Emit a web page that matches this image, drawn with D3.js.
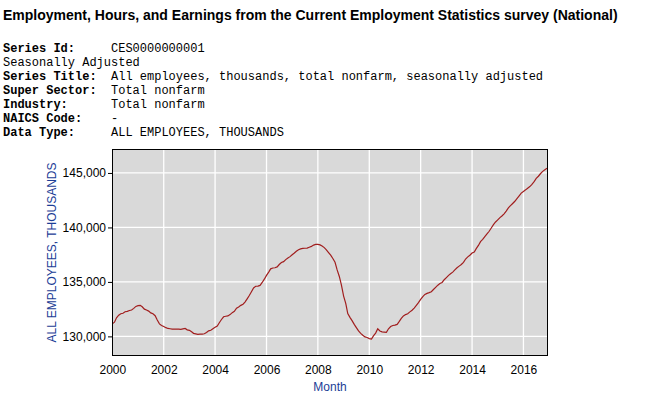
<!DOCTYPE html>
<html>
<head>
<meta charset="utf-8">
<script src="https://cdn.jsdelivr.net/npm/d3@7"></script>
<style>
  html, body { margin: 0; padding: 0; background: #fff; }
  svg { display: block; }
</style>
</head>
<body>
<svg id="chart" width="663" height="412"></svg>
<script>
// ---------- data ----------
const titleText = "Employment, Hours, and Earnings from the Current Employment Statistics survey (National)";
const metaLabels = ["Series Id:", "", "Series Title:", "Super Sector:", "Industry:", "NAICS Code:", "Data Type:"];
const metaValues = ["CES0000000001", "Seasonally Adjusted", "All employees, thousands, total nonfarm, seasonally adjusted",
                    "Total nonfarm", "Total nonfarm", "-", "ALL EMPLOYEES, THOUSANDS"];
const startMonth = "2000-01";
// monthly values, Jan 2000 .. Dec 2016 (thousands)
const employment = [
  131150,131300,131700,131950,132080,132120,132260,132300,132380,132420,132570,132750, // 2000
  132820,132850,132720,132500,132420,132320,132160,132080,131900,131500,131150,131000, // 2001
  130900,130800,130730,130700,130670,130660,130670,130670,130650,130690,130730,130600, // 2002
  130560,130420,130280,130230,130180,130200,130210,130240,130350,130510,130560,130700, // 2003
  130830,130950,131250,131550,131800,131850,131880,132000,132180,132300,132590,132700, // 2004
  132850,132950,133150,133450,133750,134100,134450,134600,134620,134680,134950,135250, // 2005
  135600,135900,136200,136280,136300,136380,136600,136780,136860,137050,137200,137320, // 2006
  137500,137650,137820,137950,138030,138080,138090,138100,138180,138260,138380,138440, // 2007
  138450,138400,138300,138150,137950,137700,137450,137150,136800,136100,135500,134700, // 2008
  133700,133000,132100,131750,131450,131100,130800,130500,130280,130100,129950,129900, // 2009
  129800,129760,130050,130300,130700,130500,130420,130400,130380,130700,130900,131000, // 2010
  131030,131100,131350,131650,131880,132000,132080,132250,132400,132600,132850,133100, // 2011
  133400,133650,133850,133950,134020,134100,134300,134500,134700,134850,134950,135200, // 2012
  135400,135600,135750,135900,136100,136300,136450,136600,136800,137100,137300,137450, // 2013
  137650,137750,138050,138350,138700,138900,139150,139400,139650,139950,140250,140500, // 2014
  140700,140900,141050,141250,141500,141800,142000,142200,142400,142650,142900,143150, // 2015
  143300,143450,143600,143750,143950,144200,144500,144700,144950,145150,145300,145430  // 2016
];
const xTickYears = [2000, 2002, 2004, 2006, 2008, 2010, 2012, 2014, 2016];
const yTicks = [130000, 135000, 140000, 145000];
const yDomain = [128200, 147200];
const xAxisTitle = "Month";
const yAxisTitle = "ALL EMPLOYEES, THOUSANDS";

// ---------- layout ----------
const svg = d3.select("#chart");
const plot = { left: 112, right: 548, top: 149, bottom: 356 };
const axisBlue = "#1c3d96";
const sansFont = "'Liberation Sans', Arial, Helvetica, sans-serif";
const monoFont = "'Liberation Mono', 'Courier New', monospace";

svg.append("rect").attr("width", 663).attr("height", 412).attr("fill", "#fff");

// title
svg.append("text")
  .attr("x", 3).attr("y", 20)
  .attr("font-family", sansFont).attr("font-size", 14).attr("font-weight", "bold")
  .attr("fill", "#000")
  .text(titleText);

// metadata block
const metaG = svg.append("g").attr("font-family", monoFont).attr("font-size", 12).attr("fill", "#000");
metaLabels.forEach((lab, i) => {
  const y = 52 + i * 14;
  if (lab) {
    metaG.append("text").attr("x", 3).attr("y", y).attr("font-weight", "bold").text(lab);
    metaG.append("text").attr("x", 111).attr("y", y).text(metaValues[i]);
  } else {
    metaG.append("text").attr("x", 3).attr("y", y).text(metaValues[i]);
  }
});

// scales
const parseMonth = d3.timeParse("%Y-%m");
const t0 = parseMonth(startMonth);
const dates = employment.map((_, i) => d3.timeMonth.offset(t0, i));
const x = d3.scaleTime()
  .domain([t0, dates[dates.length - 1]])
  .range([112.3, 547]);
const y = d3.scaleLinear().domain(yDomain).range([plot.bottom, plot.top]);

// plot background
svg.append("rect")
  .attr("x", plot.left).attr("y", plot.top)
  .attr("width", plot.right - plot.left).attr("height", plot.bottom - plot.top)
  .attr("fill", "#d9d9d9");

// gridlines
const grid = svg.append("g").attr("stroke", "#fff").attr("stroke-width", 1.3);
xTickYears.forEach(yr => {
  const xx = x(new Date(yr, 0, 1));
  grid.append("line").attr("x1", xx).attr("x2", xx).attr("y1", plot.top).attr("y2", plot.bottom);
});
yTicks.forEach(v => {
  grid.append("line").attr("x1", plot.left).attr("x2", plot.right).attr("y1", y(v)).attr("y2", y(v));
});

// line
const line = d3.line().x((d, i) => x(dates[i])).y(d => y(d));
svg.append("path")
  .datum(employment)
  .attr("d", line)
  .attr("fill", "none")
  .attr("stroke", "#a11e1e")
  .attr("stroke-width", 1.2);

// frame
svg.append("rect")
  .attr("x", plot.left + 0.5).attr("y", plot.top + 0.5)
  .attr("width", plot.right - plot.left - 1).attr("height", plot.bottom - plot.top - 1)
  .attr("fill", "none").attr("stroke", "#000").attr("stroke-width", 1);

// y axis
const yAxis = d3.axisLeft(y).tickValues(yTicks).tickSize(4).tickPadding(2).tickFormat(d3.format(","));
const yg = svg.append("g").attr("transform", `translate(${plot.left},0)`).call(yAxis);
yg.select(".domain").remove();
yg.selectAll("text").attr("font-family", sansFont).attr("font-size", 12).attr("fill", "#000");
yg.selectAll("line").attr("stroke", "#000");

// x axis (labels only)
const xAxis = d3.axisBottom(x)
  .tickValues(xTickYears.map(yr => new Date(yr, 0, 1)))
  .tickSize(0).tickPadding(9)
  .tickFormat(d3.timeFormat("%Y"));
const xg = svg.append("g").attr("transform", `translate(0,${plot.bottom})`).call(xAxis);
xg.select(".domain").remove();
xg.selectAll("text").attr("font-family", sansFont).attr("font-size", 12).attr("fill", "#000");

// axis titles
svg.append("text")
  .attr("x", (plot.left + plot.right) / 2).attr("y", 391)
  .attr("text-anchor", "middle")
  .attr("font-family", sansFont).attr("font-size", 12).attr("fill", axisBlue)
  .text(xAxisTitle);

svg.append("text")
  .attr("transform", `translate(56,${(plot.top + plot.bottom) / 2}) rotate(-90)`)
  .attr("text-anchor", "middle")
  .attr("font-family", sansFont).attr("font-size", 12).attr("fill", axisBlue)
  .text(yAxisTitle);
</script>
</body>
</html>
